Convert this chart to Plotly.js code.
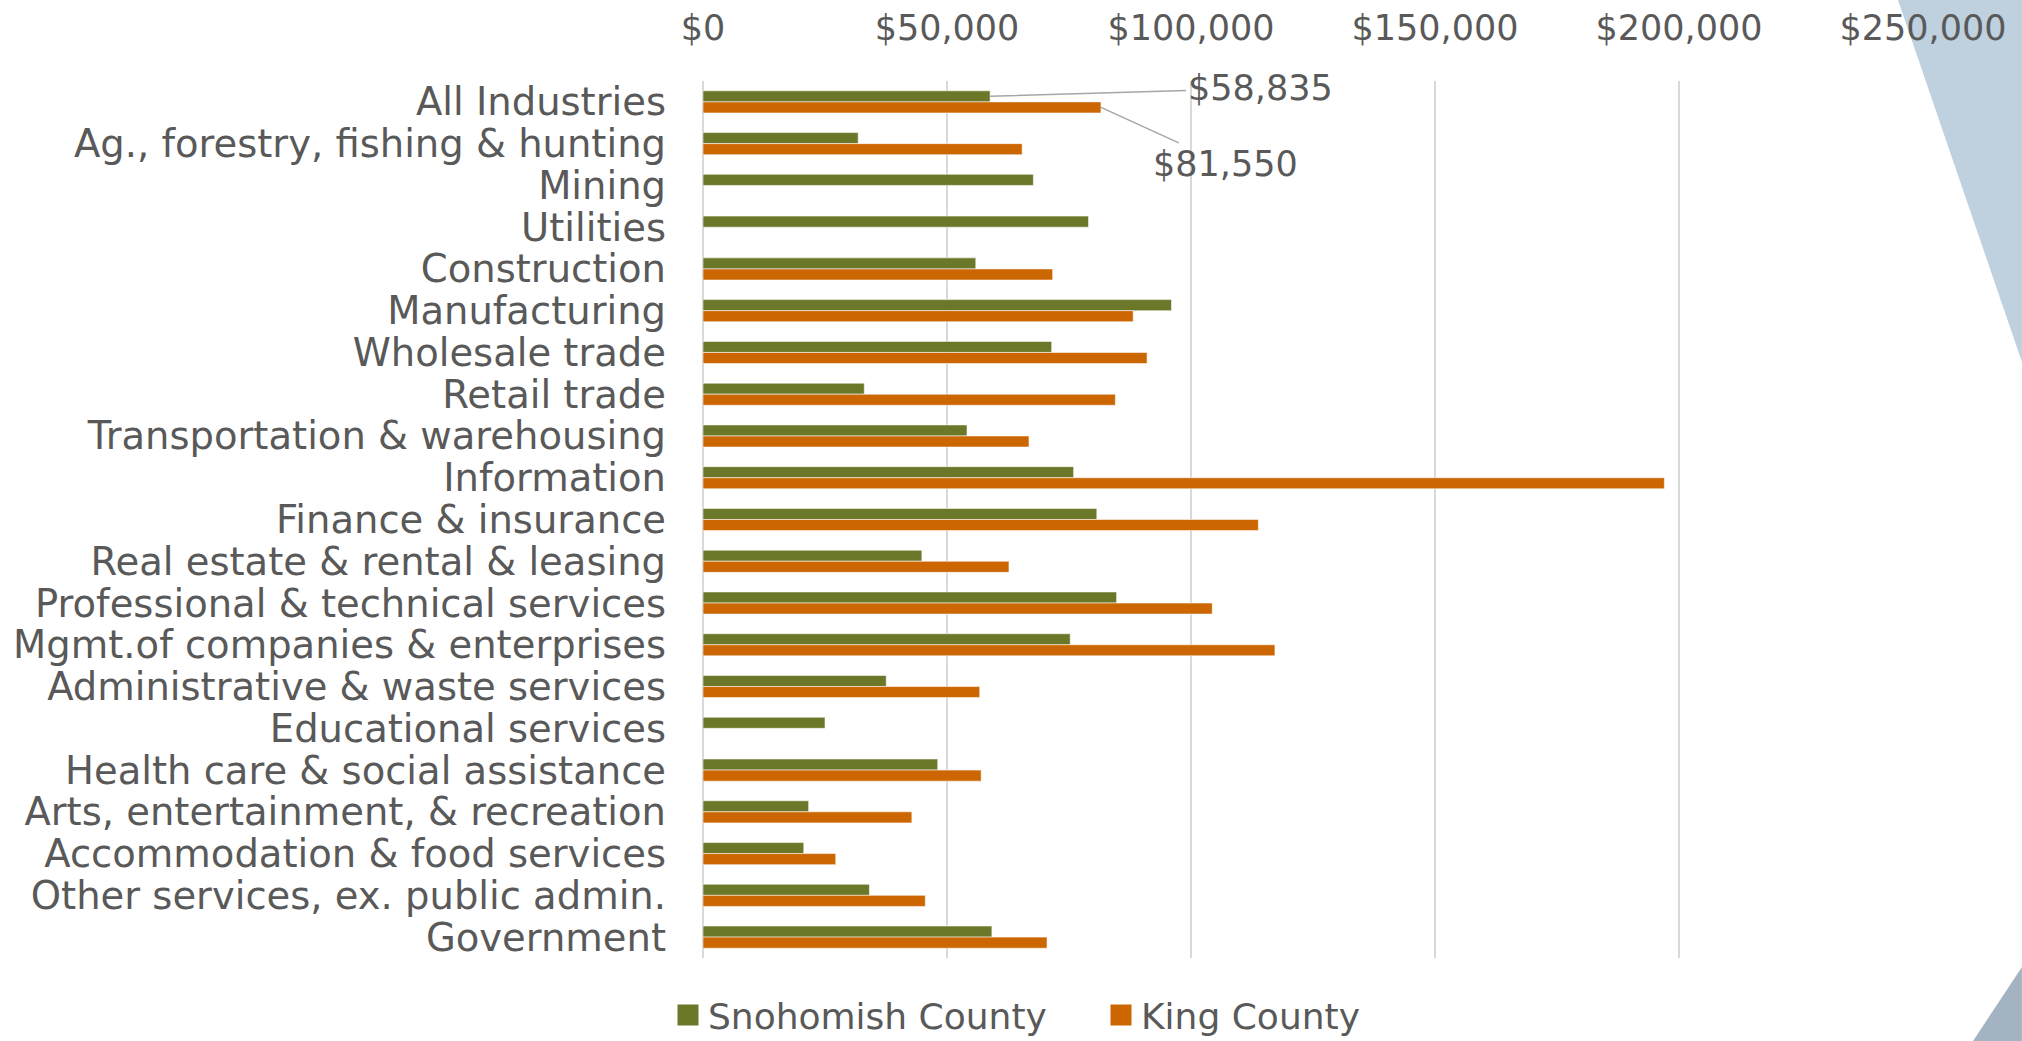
<!DOCTYPE html>
<html>
<head>
<meta charset="utf-8">
<script src="https://cdn.plot.ly/plotly-3.0.1.min.js"></script>
<style>
  html, body { margin: 0; padding: 0; background: #ffffff; }
  #chart { width: 2022px; height: 1041px; }
</style>
</head>
<body>
<div id="chart"></div>
<script>
// ---- Data ----
const industries = [
  "All Industries",
  "Ag., forestry, fishing & hunting",
  "Mining",
  "Utilities",
  "Construction",
  "Manufacturing",
  "Wholesale trade",
  "Retail trade",
  "Transportation & warehousing",
  "Information",
  "Finance & insurance",
  "Real estate & rental & leasing",
  "Professional & technical services",
  "Mgmt.of companies & enterprises",
  "Administrative & waste services",
  "Educational services",
  "Health care & social assistance",
  "Arts, entertainment, & recreation",
  "Accommodation & food services",
  "Other services, ex. public admin.",
  "Government"
];

const snohomishWages = [
  58835, 31800, 67700, 79000, 55900, 96000, 71450,
  33050, 54100, 75950, 80700, 44850, 84750, 75250,
  37550, 25000, 48100, 21650, 20650, 34100, 59200
];

const kingWages = [
  81550, 65400, null, null, 71650, 88150, 91000,
  84500, 66800, 197000, 113800, 62700, 104350, 117200,
  56700, null, 57000, 42800, 27200, 45550, 70500
];

const seriesNames = ["Snohomish County", "King County"];
const xTickValues = [0, 50000, 100000, 150000, 200000, 250000];
const xTickLabels = ["$0", "$50,000", "$100,000", "$150,000", "$200,000", "$250,000"];
const calloutLabels = ["$58,835", "$81,550"];

// ---- Styling ----
const W = 2022, H = 1041;
const M = { l: 703, r: 99, t: 81, b: 83, autoexpand: false };
const textColor = "#595959";
const fontFamily = "'DejaVu Sans', sans-serif";
const green = "#6B7829";
const orange = "#CC6600";

function pxToPaperX(px) { return (px - M.l) / (W - M.l - M.r); }
function pxToPaperY(py) { return (H - M.b - py) / (H - M.t - M.b); }

const barLine = { color: "rgba(255,255,255,0.55)", width: 1 };

const traces = [
  {
    type: "bar", orientation: "h",
    name: seriesNames[0], legendgroup: "s", showlegend: false,
    y: industries, x: snohomishWages,
    marker: { color: green, line: barLine },
    hoverinfo: "x+y"
  },
  {
    type: "bar", orientation: "h",
    name: seriesNames[1], legendgroup: "k", showlegend: false,
    y: industries, x: kingWages,
    marker: { color: orange, line: barLine },
    hoverinfo: "x+y"
  },
  // legend swatches (square keys like the reference)
  {
    type: "scatter", mode: "markers", name: seriesNames[0], legendgroup: "s",
    x: [null], y: [null],
    marker: { symbol: "square", size: 16, color: green, line: { color: green, width: 5 } }
  },
  {
    type: "scatter", mode: "markers", name: seriesNames[1], legendgroup: "k",
    x: [null], y: [null],
    marker: { symbol: "square", size: 16, color: orange, line: { color: orange, width: 5 } }
  }
];

const bargap = 0.47;
const barOffset = (1 - bargap) / 4;

function tri(points, color) {
  const p = points.map(([x, y], i) => (i ? "L" : "M") + pxToPaperX(x).toFixed(4) + "," + pxToPaperY(y).toFixed(4)).join(" ") + " Z";
  return { type: "path", xref: "paper", yref: "paper", path: p, fillcolor: color, line: { width: 0 }, layer: "below" };
}

const layout = {
  width: W, height: H,
  margin: M,
  paper_bgcolor: "#ffffff",
  plot_bgcolor: "rgba(0,0,0,0)",
  font: { family: fontFamily, color: textColor, size: 38 },
  barmode: "group",
  bargap: bargap,
  bargroupgap: 0,
  showlegend: true,
  legend: {
    orientation: "h",
    x: pxToPaperX(668), xanchor: "left",
    y: pxToPaperY(1015), yanchor: "middle",
    font: { family: fontFamily, size: 36, color: textColor },
    traceorder: "normal",
    entrywidth: 388,
    entrywidthmode: "pixels",
    bgcolor: "rgba(0,0,0,0)"
  },
  xaxis: {
    side: "top",
    range: [0, 250000],
    tickvals: xTickValues,
    ticktext: xTickLabels,
    tickfont: { family: fontFamily, size: 35, color: textColor },
    showgrid: true,
    gridcolor: "#D9D9D9",
    gridwidth: 1.5,
    zeroline: true,
    zerolinecolor: "#D9D9D9",
    zerolinewidth: 1.5,
    showline: false,
    ticks: "",
    ticklabelstandoff: 33,
    fixedrange: true
  },
  yaxis: {
    type: "category",
    range: [industries.length - 0.5, -0.5],
    tickmode: "linear", tick0: 0, dtick: 1,
    tickfont: { family: fontFamily, size: 38.5, color: textColor },
    showgrid: false,
    zeroline: false,
    showline: false,
    ticks: "",
    ticklabelstandoff: 36,
    fixedrange: true
  },
  annotations: [
    {
      x: snohomishWages[0], y: 0 - barOffset, xref: "x", yref: "y",
      text: calloutLabels[0], showarrow: true, arrowhead: 0, arrowwidth: 1.5, arrowcolor: "#A6A6A6",
      ax: 270, ay: -8,
      font: { family: fontFamily, size: 35, color: textColor }
    },
    {
      x: kingWages[0], y: 0 + barOffset, xref: "x", yref: "y",
      text: calloutLabels[1], showarrow: true, arrowhead: 0, arrowwidth: 1.5, arrowcolor: "#A6A6A6",
      ax: 125, ay: 57,
      font: { family: fontFamily, size: 35, color: textColor }
    }
  ],
  shapes: [
    tri([[1898, 0], [2022, 0], [2022, 362]], "#BFD0DF"),
    tri([[2022, 967], [2022, 1041], [1973, 1041]], "#A3B3C2")
  ]
};

Plotly.newPlot("chart", traces, layout, { displayModeBar: false, staticPlot: true });
</script>
</body>
</html>
